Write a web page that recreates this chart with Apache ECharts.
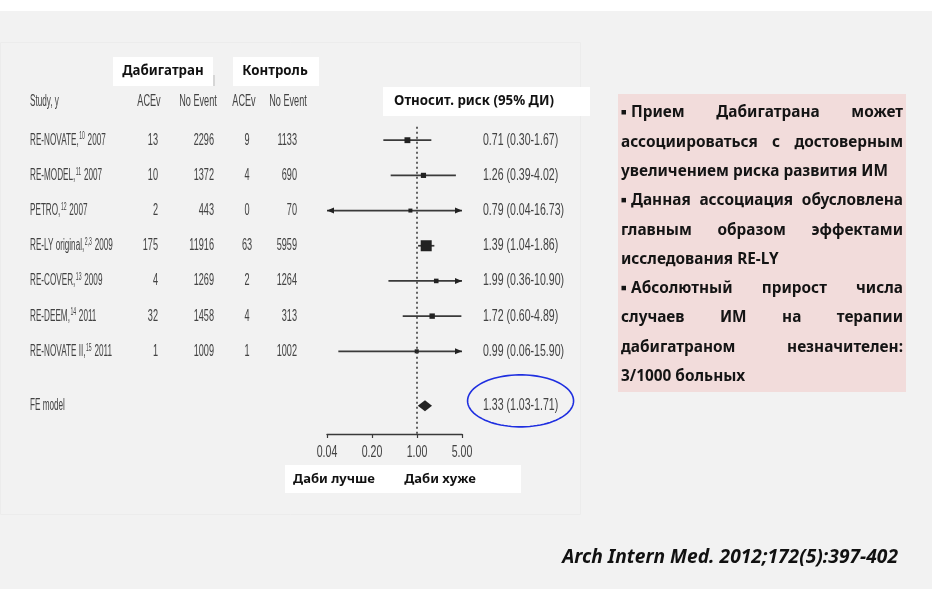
<!DOCTYPE html>
<html>
<head>
<meta charset="utf-8">
<script src="https://cdn.jsdelivr.net/npm/echarts@6/dist/echarts.min.js"></script>
<style>
  html, body { margin: 0; padding: 0; background: #f2f2f2; }
  #chart { width: 932px; height: 589px; }
</style>
</head>
<body>
<div id="chart"></div>
<script>
// ---- data ---------------------------------------------------------------
const studyLabels = [
  'RE-NOVATE,¹⁰ 2007',
  'RE-MODEL,¹¹ 2007',
  'PETRO,¹² 2007',
  'RE-LY original,²˒³ 2009',
  'RE-COVER,¹³ 2009',
  'RE-DEEM,¹⁴ 2011',
  'RE-NOVATE II,¹⁵ 2011'
];
const dabiEvents   = [13, 10, 2, 175, 4, 32, 1];
const dabiNoEvent  = [2296, 1372, 443, 11916, 1269, 1458, 1009];
const ctrlEvents   = [9, 4, 0, 63, 2, 4, 1];
const ctrlNoEvent  = [1133, 690, 70, 5959, 1264, 313, 1002];
const rrEstimate   = [0.71, 1.26, 0.79, 1.39, 1.99, 1.72, 0.99];
const rrLower      = [0.30, 0.39, 0.04, 1.04, 0.36, 0.60, 0.06];
const rrUpper      = [1.67, 4.02, 16.73, 1.86, 10.90, 4.89, 15.90];
const pooledLabel  = 'FE model';
const pooledRR     = [1.33, 1.03, 1.71];   // estimate, lower, upper
const xTickValues  = [0.04, 0.20, 1.00, 5.00];
const tableHeaders = ['Study, y', 'ACEv', 'No Event', 'ACEv', 'No Event'];
const groupHeaders = ['Дабигатран', 'Контроль'];
const ciHeader     = 'Относит. риск (95% ДИ)';
const directionLabels = ['Даби лучше', 'Даби хуже'];
const noteParagraphs = [
  ['Прием Дабигатрана может', 'ассоциироваться с достоверным', 'увеличением риска развития ИМ'],
  ['Данная ассоциация обусловлена', 'главным образом эффектами', 'исследования RE-LY'],
  ['Абсолютный прирост числа', 'случаев ИМ на терапии', 'дабигатраном незначителен:', '3/1000 больных']
];
const sourceNote = 'Arch Intern Med. 2012;172(5):397-402';

// ---- layout / style -----------------------------------------------------
const X_MIN = xTickValues[0];
const X_MAX = xTickValues[xTickValues.length - 1];
const Y_MAX = 9.35;
const POOLED_ROW = studyLabels.length + 1.55;
const PLAIN = '"Liberation Sans", Arial, sans-serif';
const BOLD = '"Noto Sans", "Open Sans", "DejaVu Sans", sans-serif';
const TABLE_INK = '#424242';
const MARK_INK = '#222';
const TXT_SIZE = 16;
const SCALE = { study: 0.51, num: 0.57, est: 0.66, tick: 0.66 };
const COL = { study: 30, dabiEv: 158, dabiNo: 214, ctrlEv: 247, ctrlNo: 297, est: 483 };

const mctx = document.createElement('canvas').getContext('2d');
function measure(text, font) { mctx.font = font; return mctx.measureText(text).width; }

// superscript digits -> rich-text fragments
const SUP = { '⁰': '0', '¹': '1', '²': '2', '³': '3', '⁴': '4', '⁵': '5', '⁶': '6', '⁷': '7', '⁸': '8', '⁹': '9', '˒': ',' };
function toRich(label) {
  return label.replace(/[⁰¹²³⁴⁵⁶⁷⁸⁹˒]+/g, m => '{sup|' + m.split('').map(c => SUP[c]).join('') + '}');
}

// square size follows study precision (1 / width of log CI)
const precision = rrEstimate.map((_, i) => 1 / (Math.log(rrUpper[i]) - Math.log(rrLower[i])));
const pMin = Math.min(...precision), pMax = Math.max(...precision);
const markerSize = precision.map(p => 4 + 7 * (p - pMin) / (pMax - pMin));

function narrowText(x, y, text, align, scale, rich) {
  const style = { text: text, fill: TABLE_INK, fontSize: TXT_SIZE, fontFamily: PLAIN,
                  align: align, verticalAlign: 'middle' };
  if (rich) {
    style.rich = { sup: { fontSize: 10, fontFamily: PLAIN, fill: TABLE_INK, padding: [0, 1, 7, 1] } };
  }
  return { type: 'text', x: x, y: y, scaleX: scale, originX: 0, originY: 0, style: style };
}

// ---- forest marks ----------------------------------------------------------
const forestData = rrEstimate.map((e, i) => [e, rrLower[i], rrUpper[i], i + 1]);
forestData.push([pooledRR[0], pooledRR[1], pooledRR[2], POOLED_ROW]);

function renderForest(params, api) {
  const i = params.dataIndex;
  const e = api.value(0), l = api.value(1), h = api.value(2), r = api.value(3);
  const y = api.coord([1, r])[1];
  const xe = api.coord([e, r])[0];
  const xl = api.coord([Math.max(l, X_MIN), r])[0];
  const xh = api.coord([Math.min(h, X_MAX), r])[0];
  const kids = [];
  if (i === studyLabels.length) {
    const hh = 5.5;
    kids.push({ type: 'polygon', shape: { points: [[xl, y], [xe, y - hh], [xh, y], [xe, y + hh]] },
                style: { fill: MARK_INK } });
    return { type: 'group', children: kids };
  }
  kids.push({ type: 'line', shape: { x1: xl, y1: y, x2: xh, y2: y },
              style: { stroke: '#3a3a3a', lineWidth: 1.7 } });
  if (l <= X_MIN) {
    kids.push({ type: 'polygon', shape: { points: [[xl, y], [xl + 7, y - 3], [xl + 7, y + 3]] },
                style: { fill: MARK_INK } });
  }
  if (h >= X_MAX) {
    kids.push({ type: 'polygon', shape: { points: [[xh, y], [xh - 7, y - 3], [xh - 7, y + 3]] },
                style: { fill: MARK_INK } });
  }
  const s = markerSize[i];
  kids.push({ type: 'rect', shape: { x: xe - s / 2, y: y - s / 2, width: s, height: s },
              style: { fill: MARK_INK } });
  return { type: 'group', children: kids };
}

// ---- table text beside the plot -----------------------------------------
const tableData = studyLabels.map((_, i) => [1, i + 1]);
tableData.push([1, POOLED_ROW]);

function renderTable(params, api) {
  const i = params.dataIndex;
  const y = api.coord([1, api.value(1)])[1];
  const pooled = i === studyLabels.length;
  const kids = [];
  kids.push(narrowText(COL.study, y, pooled ? pooledLabel : toRich(studyLabels[i]), 'left', SCALE.study, !pooled));
  if (!pooled) {
    kids.push(narrowText(COL.dabiEv, y, String(dabiEvents[i]), 'right', SCALE.num));
    kids.push(narrowText(COL.dabiNo, y, String(dabiNoEvent[i]), 'right', SCALE.num));
    kids.push(narrowText(COL.ctrlEv, y, String(ctrlEvents[i]), 'center', SCALE.num));
    kids.push(narrowText(COL.ctrlNo, y, String(ctrlNoEvent[i]), 'right', SCALE.num));
  }
  const e = pooled ? pooledRR[0] : rrEstimate[i];
  const l = pooled ? pooledRR[1] : rrLower[i];
  const h = pooled ? pooledRR[2] : rrUpper[i];
  const txt = e.toFixed(2) + ' (' + l.toFixed(2) + '-' + h.toFixed(2) + ')';
  kids.push(narrowText(COL.est, y, txt, 'left', SCALE.est));
  if (pooled) {
    // highlight ring around the pooled estimate
    const w = measure(txt, TXT_SIZE + 'px ' + PLAIN) * SCALE.est;
    const cx = COL.est + w / 2, cy = y - 5, rx = 53, ry = 26;
    const pts = [];
    for (let k = 0; k < 90; k++) {
      const t = k / 90 * Math.PI * 2;
      pts.push([cx + rx * Math.cos(t), cy + ry * Math.sin(t)]);
    }
    kids.push({ type: 'polygon', shape: { points: pts },
                style: { fill: 'none', stroke: '#1f2fe0', lineWidth: 1.6 } });
  }
  return { type: 'group', children: kids };
}

// tick labels of the ratio axis, placed through the axis scale
const tickData = xTickValues.map(v => [v, Y_MAX]);
function renderTicks(params, api) {
  const p = api.coord([api.value(0), api.value(1)]);
  const t = Number(api.value(0)).toFixed(2);
  return narrowText(p[0], p[1] + 19, t, 'center', SCALE.tick);
}

// ---- fixed annotations --------------------------------------------------
const graphics = [];
graphics.push({ type: 'rect', shape: { x: 0, y: 0, width: 932, height: 11 }, style: { fill: '#ffffff' }, silent: true });
graphics.push({ type: 'rect', shape: { x: 0.5, y: 42.5, width: 580, height: 472 },
                style: { fill: 'none', stroke: '#ececec', lineWidth: 1 }, silent: true });

function boxLabel(x, y, w, h, text, cx) {
  graphics.push({ type: 'rect', shape: { x: x, y: y, width: w, height: h }, style: { fill: '#ffffff' }, silent: true });
  graphics.push({ type: 'text', x: cx, y: y + h / 2,
                  style: { text: text, fill: '#111', fontSize: 13.3, fontWeight: 'bold', fontFamily: BOLD,
                           align: 'center', verticalAlign: 'middle' }, silent: true });
}
boxLabel(113, 57, 100, 29, groupHeaders[0], 163);
boxLabel(233, 57, 86, 29, groupHeaders[1], 275);
graphics.push({ type: 'rect', shape: { x: 213, y: 75, width: 2, height: 11 }, style: { fill: '#d6d6d6' }, silent: true });
boxLabel(383, 87, 207, 29, ciHeader, 474);
graphics.push({ type: 'rect', shape: { x: 285, y: 465, width: 236, height: 28 }, style: { fill: '#ffffff' }, silent: true });
graphics.push({ type: 'text', x: 334, y: 479, style: { text: directionLabels[0], fill: '#111', fontSize: 13, fontWeight: 'bold',
                fontFamily: BOLD, align: 'center', verticalAlign: 'middle' }, silent: true });
graphics.push({ type: 'text', x: 440, y: 479, style: { text: directionLabels[1], fill: '#111', fontSize: 13, fontWeight: 'bold',
                fontFamily: BOLD, align: 'center', verticalAlign: 'middle' }, silent: true });

// column headings of the table
const headerX = [COL.study, 149, 198, 244, 288];
tableHeaders.forEach((t, k) => {
  graphics.push({ type: 'text', x: headerX[k], y: 102, scaleX: k === 0 ? SCALE.study : SCALE.num,
                  style: { text: t, fill: TABLE_INK, fontSize: TXT_SIZE, fontFamily: PLAIN,
                           align: k === 0 ? 'left' : 'center', verticalAlign: 'middle' }, silent: true });
});

// note panel: bulleted paragraphs with justified lines
const NOTE = { x: 618, y: 94, w: 288, h: 298, left: 621, right: 903, top: 113, step: 29.3 };
graphics.push({ type: 'rect', shape: { x: NOTE.x, y: NOTE.y, width: NOTE.w, height: NOTE.h }, style: { fill: '#f2dcdb' }, silent: true });
const noteSize = 267 / measure('увеличением риска развития ИМ', 'bold 20px ' + BOLD) * 20;
const noteFont = 'bold ' + noteSize + 'px ' + BOLD;
const BULLET_W = 10;
let lineNo = 0;
noteParagraphs.forEach(par => {
  par.forEach((line, li) => {
    const y = NOTE.top + NOTE.step * lineNo++;
    let left = NOTE.left;
    if (li === 0) {
      graphics.push({ type: 'rect', shape: { x: left + 0.5, y: y - 3, width: 4.5, height: 4.5 },
                      style: { fill: '#141414' }, silent: true });
      left += BULLET_W;
    }
    const words = line.split(' ');
    const justify = li < par.length - 1 && words.length > 1;
    const widths = words.map(w => measure(w, noteFont));
    const spaceW = measure(' ', noteFont);
    const gap = justify
      ? (NOTE.right - left - widths.reduce((a, b) => a + b, 0)) / (words.length - 1)
      : spaceW;
    let x = left;
    words.forEach((w, k) => {
      graphics.push({ type: 'text', x: x, y: y,
                      style: { text: w, fill: '#141414', fontSize: noteSize, fontWeight: 'bold', fontFamily: BOLD,
                               align: 'left', verticalAlign: 'middle' }, silent: true });
      x += widths[k] + gap;
    });
  });
});

// source line
const srcSize = 336 / measure(sourceNote, 'italic bold 20px ' + BOLD) * 20;
graphics.push({ type: 'text', x: 898, y: 558,
                style: { text: sourceNote, fill: '#111', fontSize: srcSize, fontWeight: 'bold', fontStyle: 'italic',
                         fontFamily: BOLD, align: 'right', verticalAlign: 'middle' }, silent: true });

// ---- chart ------------------------------------------------------------------
const chart = echarts.init(document.getElementById('chart'), null, { renderer: 'canvas' });
chart.setOption({
  backgroundColor: '#f2f2f2',
  animation: false,
  grid: { left: 327, top: 105, width: 135, height: 329 },
  xAxis: {
    type: 'log', logBase: 5, min: X_MIN, max: X_MAX, position: 'bottom',
    axisLine: { onZero: false, lineStyle: { color: '#3a3a3a', width: 1.4 } },
    axisTick: { length: 4, lineStyle: { color: '#3a3a3a', width: 1.2 } },
    axisLabel: { show: false },
    splitLine: { show: false }
  },
  yAxis: { type: 'value', min: 0, max: Y_MAX, inverse: true, show: false },
  graphic: graphics,
  series: [
    {
      type: 'custom', name: 'forest', clip: false,
      encode: { x: 0, y: 3 },
      data: forestData,
      renderItem: renderForest,
      markLine: {
        silent: true, symbol: ['none', 'none'], label: { show: false },
        lineStyle: { color: '#333', type: [2, 3], width: 1.5 },
        data: [[{ coord: [1, 0.62] }, { coord: [1, Y_MAX] }]]
      }
    },
    {
      type: 'custom', name: 'table', clip: false,
      encode: { x: 0, y: 1 },
      data: tableData,
      renderItem: renderTable
    },
    {
      type: 'custom', name: 'ticks', clip: false,
      encode: { x: 0, y: 1 },
      data: tickData,
      renderItem: renderTicks
    }
  ]
});
</script>
</body>
</html>
